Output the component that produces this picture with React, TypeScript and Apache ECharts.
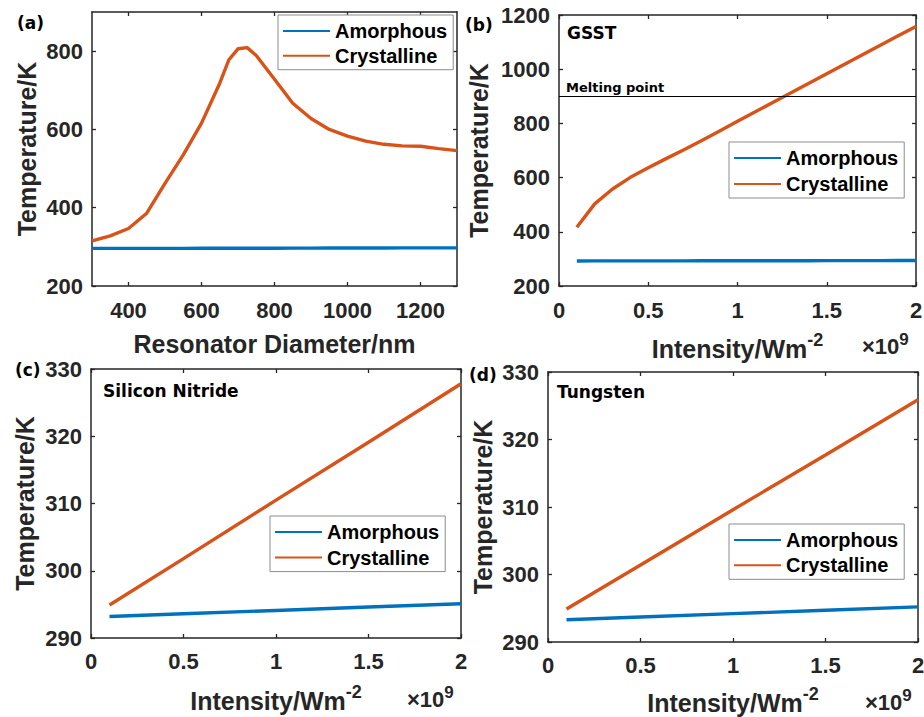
import React, { useEffect, useRef } from "react";
import * as echarts from "echarts";

// ---------- data ----------
const diameters = [300, 350, 400, 450, 500, 550, 600, 650, 675, 700, 725, 750, 800, 850, 900, 950, 1000, 1050, 1100, 1150, 1200, 1250, 1300];
const tempACrystalline = [315, 328, 347, 386, 462, 535, 616, 718, 778, 806, 809, 789, 728, 667, 628, 600, 583, 570, 562, 558, 557, 551, 546];
const tempAAmorphous = [296, 296, 296, 296, 296.1, 296.2, 296.3, 296.4, 296.4, 296.5, 296.5, 296.5, 296.6, 296.7, 296.8, 296.9, 297, 297.1, 297.2, 297.3, 297.3, 297.4, 297.5];

const intensitiesB = [0.1, 0.2, 0.3, 0.4, 0.5, 0.6, 0.7, 0.8, 0.9, 1.0, 1.1, 1.2, 1.3, 1.4, 1.5, 1.6, 1.7, 1.8, 1.9, 2.0];
const tempBCrystalline = [417, 503, 558, 601, 636, 670, 703, 737, 772, 808, 843, 878, 913, 948, 983, 1018, 1053, 1088, 1123, 1158];
const tempBAmorphous = [292.5, 292.6, 292.6, 292.7, 292.7, 292.8, 292.8, 292.9, 292.9, 293, 293.1, 293.2, 293.3, 293.4, 293.5, 293.6, 293.7, 293.8, 293.9, 294];
const meltingPoint = 900;

const intensitiesCD = [0.1, 0.5, 1.0, 1.5, 2.0];
const tempCCrystalline = [294.9, 301.8, 310.5, 319.1, 327.8];
const tempCAmorphous = [293.2, 293.6, 294.1, 294.6, 295.1];
const tempDCrystalline = [294.9, 301.4, 309.6, 317.7, 325.9];
const tempDAmorphous = [293.3, 293.7, 294.2, 294.7, 295.2];

const ticksAX = [400, 600, 800, 1000, 1200];
const ticksAY = [200, 400, 600, 800];

const seriesNames = ["Amorphous", "Crystalline"];

// ---------- style ----------
const FONT = '"Liberation Sans", Arial, Helvetica, sans-serif';
const ANNOT = '"DejaVu Sans", Verdana, sans-serif';
const AXC = "#262626";
const BLUE = "#0072BD";
const ORANGE = "#D95319";

const zip = (xs: number[], ys: number[]) => xs.map((x, i) => [x, ys[i]]);

const nameStyle = {
  fontFamily: FONT,
  fontSize: 25,
  fontWeight: "bold",
  color: AXC,
  lineHeight: 30,
};

const intensityName = {
  ...nameStyle,
  lineHeight: 36,
  rich: {
    m: { fontFamily: FONT, fontSize: 25, fontWeight: "bold", color: AXC, lineHeight: 36, verticalAlign: "middle" },
    s: { fontFamily: FONT, fontSize: 18, fontWeight: "bold", color: AXC, lineHeight: 18, verticalAlign: "top" },
  },
};

const plain = (v: number) => String(v);

function axisCommon(gridIndex: number, min: number, max: number, extra: any) {
  return {
    type: "value",
    gridIndex,
    min,
    max,
    splitLine: { show: false },
    axisLine: { show: true, onZero: false, lineStyle: { color: AXC, width: 1.5 } },
    ...extra,
  };
}

function tickStyle(extra: any) {
  return { show: true, inside: true, length: 4, lineStyle: { color: AXC, width: 1.3 }, ...(extra || {}) };
}

function labelStyle(margin: number) {
  return { show: true, margin, color: AXC, fontFamily: FONT, fontSize: 22, fontWeight: "bold", formatter: plain };
}

function xPair(g: number, min: number, max: number, ticking: any, name: string, nameGap: number, nts: any, margin: number) {
  const bottom = axisCommon(g, min, max, {
    position: "bottom",
    name,
    nameLocation: "middle",
    nameGap,
    nameTextStyle: nts,
    ...(ticking.axis || {}),
    axisTick: tickStyle(ticking.tick),
    axisLabel: { ...labelStyle(margin), ...(ticking.label || {}) },
  });
  const top = axisCommon(g, min, max, {
    position: "top",
    ...(ticking.axis || {}),
    axisTick: tickStyle(ticking.tick),
    axisLabel: { show: false },
  });
  return [bottom, top];
}

function yPair(g: number, min: number, max: number, ticking: any, nameGap: number, margin: number) {
  const left = axisCommon(g, min, max, {
    position: "left",
    name: "Temperature/K",
    nameLocation: "middle",
    nameGap,
    nameTextStyle: nameStyle,
    ...(ticking.axis || {}),
    axisTick: tickStyle(ticking.tick),
    axisLabel: { ...labelStyle(margin), ...(ticking.label || {}) },
  });
  const right = axisCommon(g, min, max, {
    position: "right",
    ...(ticking.axis || {}),
    axisTick: tickStyle(ticking.tick),
    axisLabel: { show: false },
  });
  return [left, right];
}

function legendAt(left: number, top: number, itemGap: number) {
  return {
    orient: "vertical",
    left,
    top,
    data: seriesNames,
    selectedMode: false,
    icon: "rect",
    itemWidth: 47,
    itemHeight: 2,
    itemGap,
    padding: [5, 6, 3, 5],
    borderColor: "#8c8c8c",
    borderWidth: 1,
    borderRadius: 0,
    backgroundColor: "#ffffff",
    textStyle: { fontFamily: FONT, fontSize: 20, fontWeight: "bold", color: "#000", lineHeight: 22 },
  };
}

function lineSeries(name: string, color: string, xi: number, yi: number, data: number[][], extra: any = {}) {
  return {
    type: "line",
    name,
    xAxisIndex: xi,
    yAxisIndex: yi,
    data,
    symbol: "none",
    showSymbol: false,
    lineStyle: { width: 3.4, color },
    itemStyle: { color },
    ...extra,
  };
}

function annot(text: string, x: number, y: number, size: number) {
  return {
    type: "text",
    x,
    y,
    silent: true,
    style: { text, fill: "#000", fontFamily: ANNOT, fontSize: size, fontWeight: "bold", verticalAlign: "middle", align: "left" },
  };
}

function times10(x: number, y: number) {
  return {
    type: "text",
    x,
    y,
    silent: true,
    style: {
      text: "{a|×10}{b|9}",
      verticalAlign: "middle",
      align: "left",
      rich: {
        a: { fill: AXC, fontFamily: FONT, fontSize: 22, fontWeight: "bold", lineHeight: 30, verticalAlign: "middle" },
        b: { fill: AXC, fontFamily: FONT, fontSize: 17, fontWeight: "bold", lineHeight: 17, verticalAlign: "top" },
      },
    },
  };
}

export default function App() {
  const ref = useRef<HTMLDivElement>(null);
  useEffect(() => {
    document.body.style.margin = "0";
    if (!ref.current) return;
    const chart = echarts.init(ref.current, null, { renderer: "svg" });

    const intensityTick = { axis: { interval: 0.5 } };
    const intName = "{m|Intensity/Wm}{s|-2}";
    const [ax0, ax1] = xPair(0, 300, 1300, { tick: { customValues: ticksAX }, label: { customValues: ticksAX } }, "Resonator Diameter/nm", 43, nameStyle, 13);
    const [ax2, ax3] = xPair(1, 0, 2, intensityTick, intName, 45, intensityName, 13);
    const [ax4, ax5] = xPair(2, 0, 2, intensityTick, intName, 45, intensityName, 12);
    const [ax6, ax7] = xPair(3, 0, 2, intensityTick, intName, 43, intensityName, 12);

    const [ay0, ay1] = yPair(0, 200, 900, { tick: { customValues: ticksAY }, label: { customValues: ticksAY } }, 50, 9);
    const [ay2, ay3] = yPair(1, 200, 1200, { axis: { interval: 200 } }, 65, 9);
    const [ay4, ay5] = yPair(2, 290, 330, { axis: { interval: 10 } }, 51, 9);
    const [ay6, ay7] = yPair(3, 290, 330, { axis: { interval: 10 } }, 50, 9);

    const option: any = {
      animation: false,
      backgroundColor: "#ffffff",
      grid: [
        { left: 92, top: 12, width: 365, height: 274, outerBoundsMode: "none" },
        { left: 559, top: 15, width: 357, height: 271, outerBoundsMode: "none" },
        { left: 91, top: 369, width: 370, height: 269, outerBoundsMode: "none" },
        { left: 548, top: 372, width: 370, height: 270, outerBoundsMode: "none" },
      ],
      xAxis: [ax0, ax1, ax2, ax3, ax4, ax5, ax6, ax7],
      yAxis: [ay0, ay1, ay2, ay3, ay4, ay5, ay6, ay7],
      legend: [legendAt(278, 15, 2.7), legendAt(729, 142, 4), legendAt(270, 516, 3.6), legendAt(729, 524, 3.3)],
      series: [
        lineSeries("Amorphous", BLUE, 0, 0, zip(diameters, tempAAmorphous)),
        lineSeries("Crystalline", ORANGE, 0, 0, zip(diameters, tempACrystalline)),
        lineSeries("Amorphous", BLUE, 2, 2, zip(intensitiesB, tempBAmorphous)),
        lineSeries("Crystalline", ORANGE, 2, 2, zip(intensitiesB, tempBCrystalline), {
          markLine: {
            silent: true,
            symbol: ["none", "none"],
            label: { show: false },
            lineStyle: { color: "#000", width: 1, type: "solid" },
            data: [{ yAxis: meltingPoint }],
          },
        }),
        lineSeries("Amorphous", BLUE, 4, 4, zip(intensitiesCD, tempCAmorphous)),
        lineSeries("Crystalline", ORANGE, 4, 4, zip(intensitiesCD, tempCCrystalline)),
        lineSeries("Amorphous", BLUE, 6, 6, zip(intensitiesCD, tempDAmorphous)),
        lineSeries("Crystalline", ORANGE, 6, 6, zip(intensitiesCD, tempDCrystalline)),
      ],
      graphic: [
        annot("(a)", 17, 23, 17),
        annot("(b)", 465, 25, 17),
        annot("(c)", 15, 370, 17),
        annot("(d)", 469, 375, 17),
        annot("GSST", 567, 33, 17),
        annot("Melting point", 566, 87, 13),
        annot("Silicon Nitride", 103, 391, 17),
        annot("Tungsten", 557, 392, 17),
        times10(862, 346),
        times10(407, 699),
        times10(865, 702),
      ],
    };
    chart.setOption(option);
    return () => chart.dispose();
  }, []);
  return <div ref={ref} style={{ width: 924, height: 717 }} />;
}
